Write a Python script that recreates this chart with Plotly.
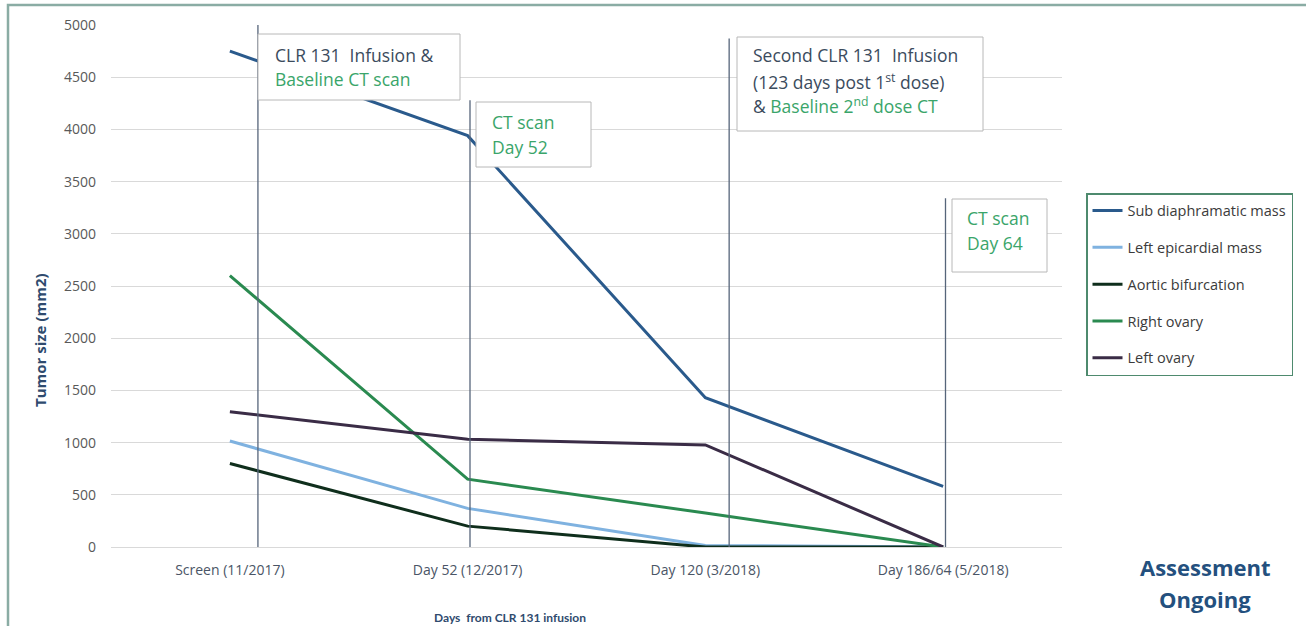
import plotly.graph_objects as go

categories = ["Screen (11/2017)", "Day 52 (12/2017)", "Day 120 (3/2018)", "Day 186/64 (5/2018)"]
series_names = ["Sub diaphramatic mass", "Left epicardial mass", "Aortic bifurcation", "Right ovary", "Left ovary"]
sub_diaphramatic = [4750, 3940, 1430, 580]
left_epicardial = [1015, 370, 15, 0]
aortic_bifurcation = [800, 200, 0, 0]
right_ovary = [2600, 650, 325, 0]
left_ovary = [1295, 1033, 978, 0]
series_values = [sub_diaphramatic, left_epicardial, aortic_bifurcation, right_ovary, left_ovary]
colors = ["#2a5a8c", "#7fb2e0", "#0f2e1c", "#2a8a50", "#3a2c46"]
y_ticks = [0, 500, 1000, 1500, 2000, 2500, 3000, 3500, 4000, 4500, 5000]

# event markers: (category position, top value)
event_x = [0.118, 1.01, 2.10, 3.01]
event_top = [5000, 4280, 4870, 3340]

FONT = "Open Sans"
GREEN = "#3aa56a"
DARK = "#3b4b5d"

# plot area in page pixels
L, R, T, B = 111, 1062, 25, 547
def px(x):
    return (x - L) / (R - L)
def py(y):
    return (B - y) / (B - T)

fig = go.Figure()
for i, (name, vals, col) in enumerate(zip(series_names, series_values, colors)):
    fig.add_trace(go.Scatter(
        x=list(range(len(categories))), y=vals, name=name, mode="lines",
        line=dict(color=col, width=3), legendgroup=f"g{i}"))

shapes = []
for ex, et in zip(event_x, event_top):
    shapes.append(dict(type="line", xref="x", yref="y", x0=ex, x1=ex, y0=0, y1=et,
                       line=dict(color="#56657a", width=1.3), layer="above"))
# annotation boxes (white, covering lines)
boxes = [(258, 34, 460, 100), (476, 102, 591, 167), (737, 37, 983, 131), (952, 199, 1047, 272)]
for x0, y0, x1, y1 in boxes:
    shapes.append(dict(type="rect", xref="paper", yref="paper", x0=px(x0), x1=px(x1), y0=py(y1), y1=py(y0),
                       line=dict(color="#b8b8b8", width=1), fillcolor="white", layer="above"))
# outer frame
shapes.append(dict(type="rect", xref="paper", yref="paper", x0=px(8), x1=px(1320), y0=py(700), y1=py(5),
                   line=dict(color="#8aaca4", width=2.5), layer="below"))
fig.update_layout(shapes=shapes)

annotations = []
def line_text(x, y, text, size=17.5, color=DARK, anchor="left", bold=False, family=FONT):
    f = dict(family=family, size=size, color=color)
    if bold:
        f["weight"] = "bold"
    annotations.append(dict(xref="paper", yref="paper", x=px(x), y=py(y), xanchor=anchor, yanchor="middle",
                            text=text, showarrow=False, font=f))

line_text(273, 55, "CLR 131  Infusion &")
line_text(273, 79, "Baseline CT scan", color=GREEN)
line_text(490, 122, "CT scan", color=GREEN)
line_text(490, 147, "Day 52", color=GREEN)
line_text(751, 55, "Second CLR 131  Infusion")
line_text(751, 81, "(123 days post 1<sup>st</sup> dose)")
line_text(751, 106, f"& <span style='color:{GREEN}'>Baseline 2<sup>nd</sup> dose CT</span>")
line_text(965, 218, "CT scan", color=GREEN)
line_text(965, 243, "Day 64", color=GREEN)

line_text(1205, 567, "Assessment", size=22, color="#24507e", anchor="center", bold=True)
line_text(1205, 599, "Ongoing", size=22, color="#24507e", anchor="center", bold=True)
line_text(510, 617, "Days  from CLR 131 infusion", size=12, color="#2f4b6e", anchor="center",
          bold=True, family="Lato")
annotations.append(dict(xref="paper", yref="paper", x=px(40), y=py(340),
                        text="Tumor size (mm2)", showarrow=False, textangle=-90,
                        xanchor="center", yanchor="middle",
                        font=dict(family=FONT, size=15, color="#2f4b6e", weight="bold")))
fig.update_layout(annotations=annotations)

fig.update_layout(
    width=1306, height=626,
    margin=dict(l=L, r=1306 - R, t=T, b=626 - B),
    paper_bgcolor="white", plot_bgcolor="white",
    font=dict(family=FONT, color="#595959"),
    xaxis=dict(tickmode="array", tickvals=list(range(len(categories))), ticktext=categories,
               range=[-0.5, 3.5], showgrid=False, zeroline=False, showline=False,
               ticks="", ticklabelstandoff=13, tickfont=dict(size=14, color="#4a5566")),
    yaxis=dict(range=[0, 5000], tickvals=y_ticks, showgrid=True, gridcolor="#d9d9d9",
               gridwidth=1, zeroline=True, zerolinecolor="#d9d9d9", zerolinewidth=1,
               ticks="", ticklabelstandoff=14, tickfont=dict(size=14, color="#595959")),
    legend=dict(x=px(1086), y=py(193), xanchor="left", yanchor="top",
                bordercolor="#4e8a6e", borderwidth=1.5, bgcolor="white",
                font=dict(family=FONT, size=14.5, color="#3b3b3b"),
                tracegroupgap=15, traceorder="grouped"),
    showlegend=True,
)

fig.write_html("out.html", config={"displayModeBar": False},
               post_script="document.body.style.margin='0';document.body.style.overflow='hidden';")
